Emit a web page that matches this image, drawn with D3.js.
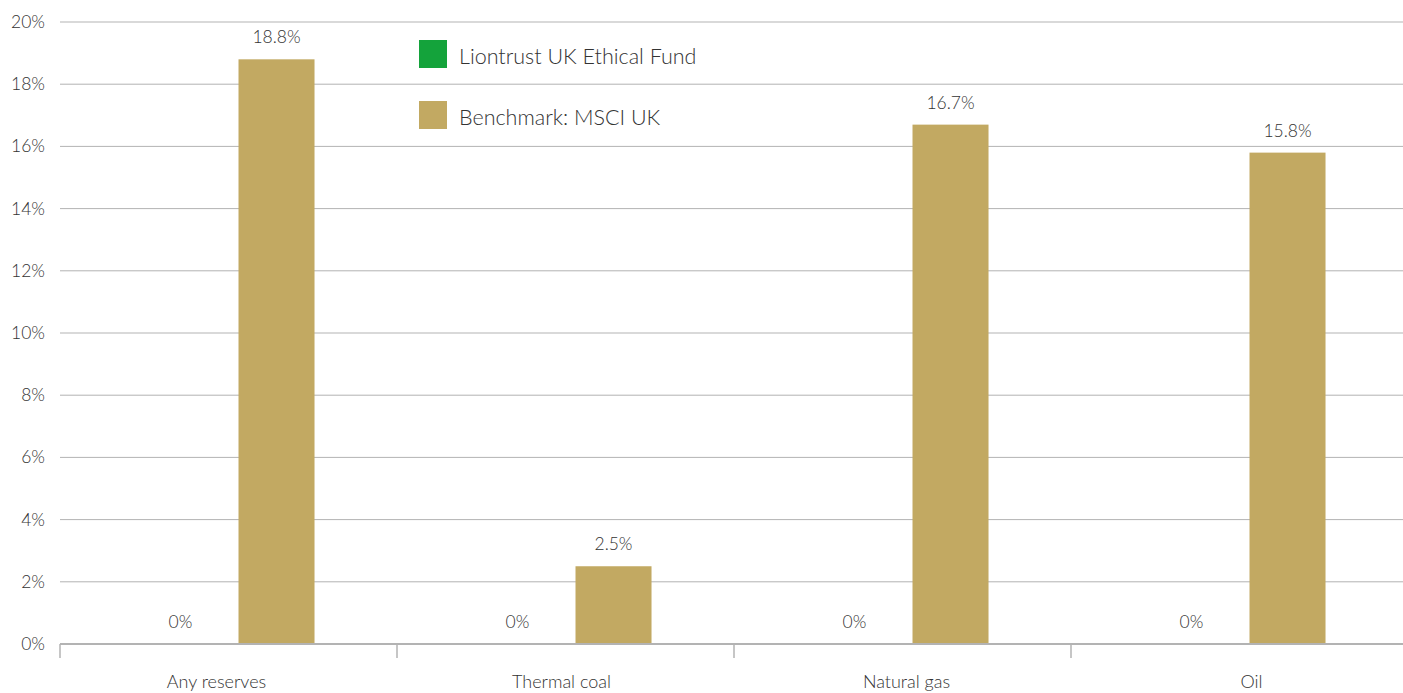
<!DOCTYPE html>
<html>
<head>
<meta charset="utf-8">
<script src="https://cdn.jsdelivr.net/npm/d3@7"></script>
<style>
  body { margin: 0; background: #fff; }
  svg text { font-family: "Lato", "Open Sans", sans-serif; font-weight: 300; fill: #333; }
</style>
</head>
<body>
<div id="chart"></div>
<script>
// data
var categories = ['Any reserves', 'Thermal coal', 'Natural gas', 'Oil'];
var seriesNames = ['Liontrust UK Ethical Fund', 'Benchmark: MSCI UK'];
var fundValues = [0, 0, 0, 0];
var benchmarkValues = [18.8, 2.5, 16.7, 15.8];
var seriesColors = ['#14a33b', '#c2a962'];
var yTicks = [0, 2, 4, 6, 8, 10, 12, 14, 16, 18, 20];

var width = 1403, height = 693;
var margin = {top: 22, left: 60, bottom: 49};

var svg = d3.select('#chart').append('svg')
    .attr('width', width)
    .attr('height', height);

var y = d3.scaleLinear().domain([0, 20]).range([height - margin.bottom, margin.top]);

var x0 = d3.scaleBand().domain(categories).range([margin.left, margin.left + 4 * 337]);
var x1 = d3.scaleBand().domain(seriesNames).range([0, x0.bandwidth()])
    .paddingInner(20 / 96).paddingOuter(0.859);
// category labels sit on a slightly wider spacing in the original
var xLabel = d3.scaleBand().domain(categories).range([44, 44 + 4 * 345]);

// grid lines
svg.append('g').selectAll('line')
    .data(yTicks.slice(1))
    .enter().append('line')
    .attr('x1', margin.left).attr('x2', width)
    .attr('y1', function(d) { return y(d); })
    .attr('y2', function(d) { return y(d); })
    .attr('stroke', '#b3b3b3').attr('stroke-width', 1);

// y labels
svg.append('g').selectAll('text')
    .data(yTicks)
    .enter().append('text')
    .attr('x', 45)
    .attr('y', function(d) { return y(d) + 6; })
    .attr('text-anchor', 'end')
    .style('font-size', '17.5px')
    .text(function(d) { return d + '%'; });

var rows = categories.map(function(c, i) {
    return {cat: c, vals: [fundValues[i], benchmarkValues[i]]};
});

var groups = svg.append('g').selectAll('g')
    .data(rows)
    .enter().append('g')
    .attr('transform', function(d) { return 'translate(' + x0(d.cat) + ',0)'; });

groups.selectAll('rect')
    .data(function(d) { return d.vals.map(function(v, j) { return {s: seriesNames[j], v: v, c: seriesColors[j]}; }); })
    .enter().append('rect')
    .attr('x', function(d) { return x1(d.s); })
    .attr('width', x1.bandwidth())
    .attr('y', function(d) { return y(d.v); })
    .attr('height', function(d) { return y(0) - y(d.v); })
    .attr('fill', function(d) { return d.c; });

groups.selectAll('text')
    .data(function(d) { return d.vals.map(function(v, j) { return {s: seriesNames[j], v: v}; }); })
    .enter().append('text')
    .attr('x', function(d) { return x1(d.s) + x1.bandwidth() / 2; })
    .attr('y', function(d) { return y(d.v) - 16; })
    .attr('text-anchor', 'middle')
    .style('font-size', '17.5px')
    .text(function(d) { return d.v + '%'; });

// x axis baseline
svg.append('line')
    .attr('x1', margin.left).attr('x2', width)
    .attr('y1', y(0)).attr('y2', y(0))
    .attr('stroke', '#b3b3b3').attr('stroke-width', 2);

svg.append('g').selectAll('line')
    .data(categories)
    .enter().append('line')
    .attr('x1', function(d) { return x0(d); })
    .attr('x2', function(d) { return x0(d); })
    .attr('y1', y(0)).attr('y2', y(0) + 14)
    .attr('stroke', '#b3b3b3').attr('stroke-width', 1.5);

svg.append('g').selectAll('text')
    .data(categories)
    .enter().append('text')
    .attr('x', function(d) { return xLabel(d) + xLabel.bandwidth() / 2; })
    .attr('y', 688)
    .attr('text-anchor', 'middle')
    .style('font-size', '18px')
    .text(function(d) { return d; });

// legend
var legend = svg.append('g').selectAll('g')
    .data(seriesNames)
    .enter().append('g')
    .attr('transform', function(d, i) { return 'translate(419,' + (40 + i * 61) + ')'; });

legend.append('rect')
    .attr('width', 28).attr('height', 28)
    .attr('fill', function(d, i) { return seriesColors[i]; });

legend.append('text')
    .attr('x', 40).attr('y', 24)
    .style('font-size', '21.5px')
    .text(function(d) { return d; });
</script>
</body>
</html>
